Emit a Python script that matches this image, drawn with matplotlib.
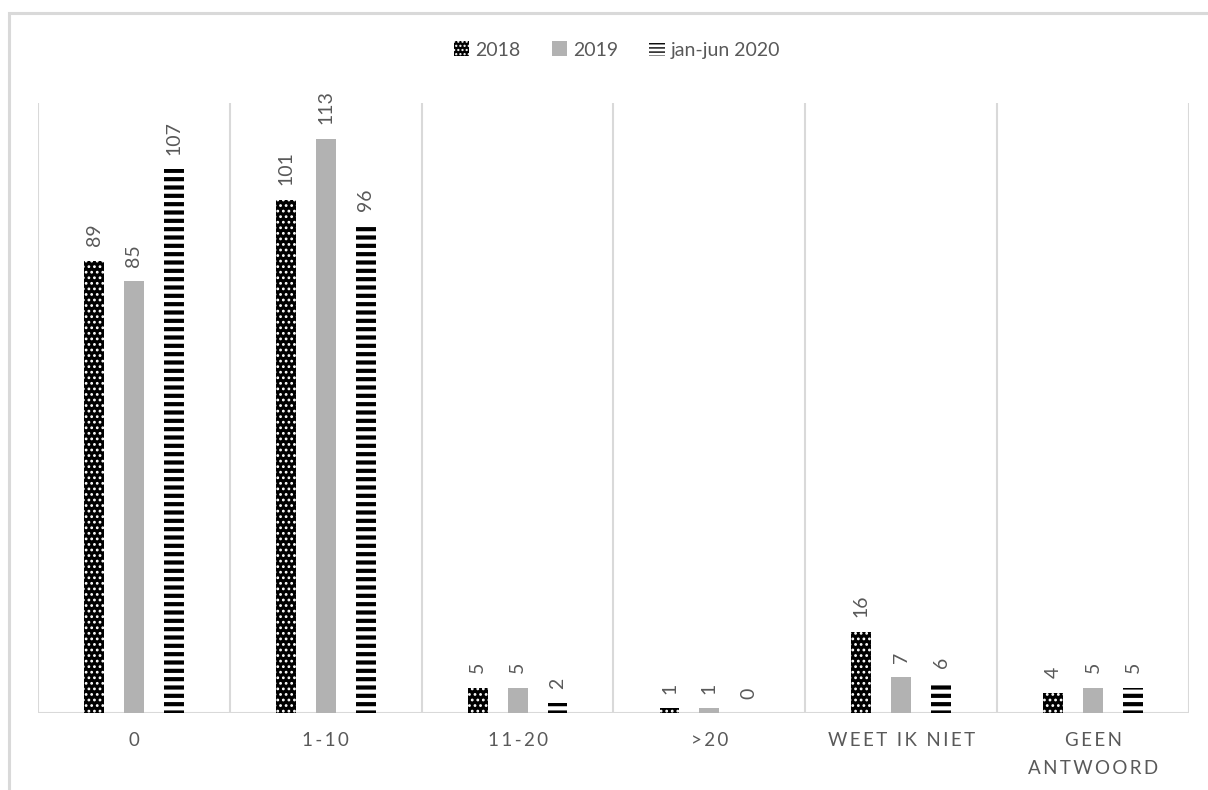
import matplotlib
matplotlib.use("Agg")
import matplotlib.pyplot as plt
import numpy as np
from matplotlib.patches import Rectangle, Patch

plt.rcParams['font.family'] = ['Lato', 'DejaVu Sans']

categories = ["0", "1-10", "11-20", ">20", "WEET IK NIET", "GEEN\nANTWOORD"]
series_names = ["2018", "2019", "jan-jun 2020"]
v2018 = [89, 101, 5, 1, 16, 4]
v2019 = [85, 113, 5, 1, 7, 5]
v2020 = [107, 96, 2, 0, 6, 5]

TXT = '#595959'
GRID = '#d9d9d9'

def spaced(s):
    return "\n".join("\u2009".join(list(line)) for line in s.split("\n"))

fig = plt.figure(figsize=(12.08, 7.90), dpi=100)
W, H = 1208, 790
# outer chart border
fig.patches.append(Rectangle((9 / W, -0.05), 1.2, (1 - 13 / H) + 0.05, transform=fig.transFigure,
                             fill=False, edgecolor=GRID, linewidth=2.2))

ax = fig.add_axes([38 / W, 1 - 713 / H, (1189 - 38) / W, (713 - 103) / H])
x = np.arange(len(categories))
bw = 0.104
off = 0.208

with plt.rc_context({'hatch.linewidth': 1.2}):
    b1 = ax.bar(x - off, v2018, bw, facecolor='black', edgecolor='white', linewidth=0, hatch='...')
    h1 = Patch(facecolor='black', edgecolor='white', hatch='....', linewidth=0)
b2 = ax.bar(x, v2019, bw, facecolor='#b2b2b2', edgecolor='none', linewidth=0)
h2 = Patch(facecolor='#b2b2b2', edgecolor='none')
with plt.rc_context({'hatch.linewidth': 3.0}):
    b3 = ax.bar(x + off, v2020, bw, facecolor='white', edgecolor='black', linewidth=0, hatch='--')
with plt.rc_context({'hatch.linewidth': 2.0}):
    h3 = Patch(facecolor='white', edgecolor='black', hatch='----', linewidth=0)

for bars, vals in ((b1, v2018), (b2, v2019), (b3, v2020)):
    for rect, v in zip(bars, vals):
        ax.text(rect.get_x() + rect.get_width() / 2, v + 2.8, str(v), rotation=90,
                ha='center', va='bottom', color=TXT, fontsize=14)

ax.set_xlim(-0.5, len(categories) - 0.5)
ax.set_ylim(0, 120)
for b in np.arange(-0.5, len(categories), 1.0):
    ax.axvline(b, color=GRID, linewidth=1.5, zorder=0)
ax.axhline(0, color=GRID, linewidth=1.5, zorder=0)
for s in ax.spines.values():
    s.set_visible(False)
ax.set_yticks([])
ax.set_xticks(x)
ax.set_xticklabels([spaced(c) for c in categories], color=TXT, fontsize=13.5, linespacing=1.75)
ax.tick_params(axis='x', length=0, pad=14)

leg = fig.legend([h1, h2, h3], series_names, loc='center', bbox_to_anchor=(617 / W, 1 - 50 / H), ncol=3,
                 frameon=False, fontsize=14, handlelength=0.8, handleheight=0.8,
                 handletextpad=0.3, columnspacing=1.6)
for t in leg.get_texts():
    t.set_color(TXT)

fig.savefig("out.png", dpi=100)
